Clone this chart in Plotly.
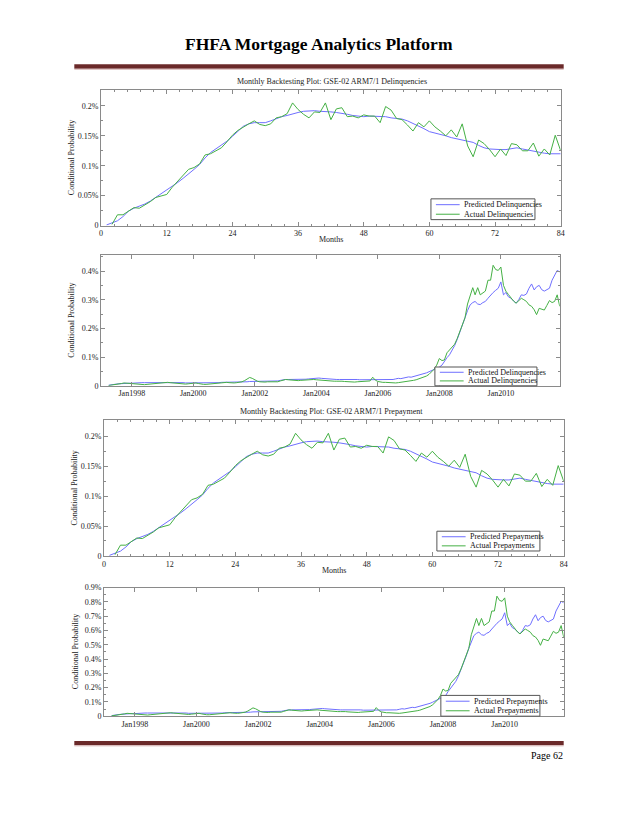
import plotly.graph_objects as go
import pandas as pd

# ---------------- data (values in percent) ----------------
months_pred = list(range(1, 85))
delinq_pred = [0.001, 0.004, 0.008, 0.015, 0.024, 0.029, 0.032, 0.036, 0.041, 0.047, 0.053, 0.059,
               0.065, 0.072, 0.079, 0.086, 0.094, 0.102, 0.113, 0.122, 0.128, 0.134, 0.141, 0.149,
               0.158, 0.166, 0.170, 0.172, 0.172, 0.172, 0.175, 0.179, 0.182, 0.184, 0.187, 0.189,
               0.191, 0.192, 0.192, 0.191, 0.191, 0.190, 0.189, 0.188, 0.186, 0.184, 0.183, 0.182,
               0.183, 0.183, 0.183, 0.182, 0.180, 0.179, 0.178, 0.175, 0.171, 0.167, 0.162, 0.157,
               0.155, 0.153, 0.150, 0.147, 0.145, 0.143, 0.141, 0.139, 0.134, 0.130, 0.128, 0.127,
               0.127, 0.127, 0.128, 0.130, 0.128, 0.126, 0.124, 0.122, 0.121, 0.120, 0.120, 0.120]
months_act = list(range(2, 85))
delinq_act = [0.002, 0.018, 0.018, 0.024, 0.030, 0.029, 0.034, 0.040, 0.047, 0.049, 0.052,
              0.064, 0.074, 0.085, 0.094, 0.097, 0.103, 0.118, 0.120, 0.125, 0.130, 0.140, 0.151,
              0.159, 0.165, 0.170, 0.175, 0.169, 0.167, 0.170, 0.180, 0.182, 0.187, 0.205, 0.194,
              0.186, 0.180, 0.190, 0.189, 0.205, 0.177, 0.195, 0.197, 0.182, 0.183, 0.180, 0.185,
              0.183, 0.183, 0.172, 0.199, 0.193, 0.179, 0.177, 0.168, 0.158, 0.172, 0.165, 0.175,
              0.165, 0.158, 0.150, 0.160, 0.148, 0.170, 0.133, 0.115, 0.143, 0.137, 0.127, 0.115,
              0.128, 0.117, 0.137, 0.135, 0.125, 0.125, 0.138, 0.116, 0.128, 0.118, 0.151, 0.125]

# the prepayment backtest panel shows the same monthly curves
prepay_pred = list(delinq_pred)
prepay_act = list(delinq_act)

# historical monthly series, Apr 1997 .. Dec 2011
hist_dates = pd.date_range("1997-04-01", "2011-12-01", freq="MS")
delinq_pred_hist = [
    0.002, 0.004, 0.005, 0.006, 0.007, 0.008, 0.008, 0.009, 0.009,
    0.009, 0.010, 0.010, 0.010, 0.011, 0.011, 0.011, 0.012, 0.012, 0.013, 0.013, 0.013,
    0.013, 0.013, 0.012, 0.012, 0.012, 0.011, 0.011, 0.011, 0.011, 0.010, 0.010, 0.010,
    0.010, 0.010, 0.010, 0.010, 0.009, 0.009, 0.010, 0.010, 0.011, 0.011, 0.011, 0.012,
    0.012, 0.012, 0.012, 0.013, 0.013, 0.013, 0.014, 0.014, 0.014, 0.014, 0.015, 0.015,
    0.016, 0.016, 0.016, 0.016, 0.015, 0.015, 0.015, 0.015, 0.016, 0.017, 0.019, 0.021,
    0.022, 0.022, 0.022, 0.021, 0.021, 0.022, 0.022, 0.023, 0.023, 0.024, 0.025, 0.026,
    0.027, 0.027, 0.026, 0.025, 0.024, 0.024, 0.023, 0.023, 0.022, 0.022, 0.022, 0.023,
    0.024, 0.024, 0.023, 0.022, 0.022, 0.021, 0.021, 0.021, 0.020, 0.020, 0.020, 0.020,
    0.020, 0.020, 0.020, 0.020, 0.020, 0.021, 0.022, 0.024, 0.026, 0.025, 0.027, 0.029,
    0.031, 0.030, 0.032, 0.034, 0.036, 0.038, 0.042, 0.045, 0.049, 0.053, 0.057, 0.061,
    0.065, 0.072, 0.086, 0.098, 0.108, 0.122, 0.140, 0.162, 0.185, 0.210, 0.237, 0.262,
    0.282, 0.290, 0.294, 0.285, 0.283, 0.290, 0.294, 0.305, 0.317, 0.325, 0.333, 0.340,
    0.362, 0.317, 0.325, 0.310, 0.305, 0.298, 0.288, 0.300, 0.317, 0.315, 0.320, 0.340,
    0.355, 0.334, 0.345, 0.350, 0.335, 0.330, 0.335, 0.340, 0.368, 0.385, 0.402, 0.397]
delinq_act_hist = [
    0.001, 0.002, 0.003, 0.004, 0.006, 0.008, 0.010, 0.009, 0.008,
    0.008, 0.007, 0.006, 0.005, 0.004, 0.004, 0.005, 0.006, 0.007, 0.008, 0.009, 0.010,
    0.010, 0.011, 0.012, 0.011, 0.010, 0.009, 0.008, 0.007, 0.006, 0.006, 0.007, 0.008,
    0.009, 0.010, 0.008, 0.006, 0.005, 0.005, 0.006, 0.007, 0.008, 0.009, 0.010, 0.011,
    0.011, 0.012, 0.011, 0.010, 0.010, 0.011, 0.012, 0.014, 0.018, 0.024, 0.029, 0.026,
    0.020, 0.016, 0.014, 0.013, 0.013, 0.014, 0.014, 0.013, 0.013, 0.014, 0.017, 0.020,
    0.022, 0.021, 0.020, 0.019, 0.018, 0.018, 0.019, 0.020, 0.021, 0.022, 0.022, 0.022,
    0.021, 0.020, 0.020, 0.019, 0.018, 0.017, 0.017, 0.016, 0.016, 0.017, 0.016, 0.015,
    0.014, 0.014, 0.013, 0.013, 0.014, 0.015, 0.016, 0.016, 0.016, 0.017, 0.030, 0.020,
    0.015, 0.013, 0.012, 0.012, 0.011, 0.010, 0.010, 0.010, 0.011, 0.012, 0.013, 0.014,
    0.016, 0.017, 0.019, 0.021, 0.024, 0.027, 0.030, 0.034, 0.040, 0.048, 0.058, 0.072,
    0.095, 0.088, 0.090, 0.115, 0.125, 0.135, 0.145, 0.165, 0.190, 0.210, 0.237, 0.285,
    0.317, 0.342, 0.317, 0.342, 0.317, 0.325, 0.330, 0.368, 0.368, 0.420, 0.405, 0.402,
    0.414, 0.350, 0.330, 0.318, 0.305, 0.295, 0.288, 0.298, 0.305, 0.300, 0.294, 0.282,
    0.277, 0.265, 0.248, 0.270, 0.268, 0.264, 0.280, 0.297, 0.290, 0.294, 0.317, 0.277]
prepay_pred_hist = [
    0.004, 0.008, 0.010, 0.012, 0.014, 0.016, 0.016, 0.018, 0.018,
    0.018, 0.020, 0.020, 0.020, 0.022, 0.022, 0.022, 0.024, 0.024, 0.026, 0.026, 0.026,
    0.026, 0.026, 0.024, 0.024, 0.024, 0.022, 0.022, 0.022, 0.022, 0.020, 0.020, 0.020,
    0.020, 0.020, 0.020, 0.020, 0.018, 0.018, 0.020, 0.020, 0.022, 0.022, 0.022, 0.024,
    0.024, 0.024, 0.024, 0.026, 0.026, 0.026, 0.028, 0.028, 0.028, 0.028, 0.030, 0.030,
    0.032, 0.032, 0.032, 0.032, 0.030, 0.030, 0.030, 0.030, 0.032, 0.034, 0.038, 0.042,
    0.044, 0.044, 0.044, 0.042, 0.042, 0.044, 0.044, 0.046, 0.046, 0.048, 0.050, 0.052,
    0.054, 0.054, 0.052, 0.050, 0.048, 0.048, 0.046, 0.046, 0.044, 0.044, 0.044, 0.046,
    0.048, 0.048, 0.046, 0.044, 0.044, 0.042, 0.042, 0.042, 0.040, 0.040, 0.040, 0.040,
    0.040, 0.040, 0.040, 0.040, 0.040, 0.042, 0.044, 0.048, 0.052, 0.050, 0.054, 0.058,
    0.062, 0.060, 0.064, 0.068, 0.072, 0.076, 0.084, 0.090, 0.098, 0.106, 0.114, 0.122,
    0.130, 0.144, 0.172, 0.196, 0.216, 0.244, 0.280, 0.324, 0.370, 0.420, 0.474, 0.524,
    0.564, 0.580, 0.588, 0.570, 0.566, 0.580, 0.588, 0.610, 0.634, 0.650, 0.666, 0.680,
    0.724, 0.634, 0.650, 0.620, 0.610, 0.596, 0.576, 0.600, 0.634, 0.630, 0.640, 0.680,
    0.710, 0.668, 0.690, 0.700, 0.670, 0.660, 0.670, 0.680, 0.736, 0.770, 0.804, 0.794]
prepay_act_hist = [
    0.002, 0.004, 0.006, 0.008, 0.012, 0.016, 0.020, 0.018, 0.016,
    0.016, 0.014, 0.012, 0.010, 0.008, 0.008, 0.010, 0.012, 0.014, 0.016, 0.018, 0.020,
    0.020, 0.022, 0.024, 0.022, 0.020, 0.018, 0.016, 0.014, 0.012, 0.012, 0.014, 0.016,
    0.018, 0.020, 0.016, 0.012, 0.010, 0.010, 0.012, 0.014, 0.016, 0.018, 0.020, 0.022,
    0.022, 0.024, 0.022, 0.020, 0.020, 0.022, 0.024, 0.028, 0.036, 0.048, 0.058, 0.052,
    0.040, 0.032, 0.028, 0.026, 0.026, 0.028, 0.028, 0.026, 0.026, 0.028, 0.034, 0.040,
    0.044, 0.042, 0.040, 0.038, 0.036, 0.036, 0.038, 0.040, 0.042, 0.044, 0.044, 0.044,
    0.042, 0.040, 0.040, 0.038, 0.036, 0.034, 0.034, 0.032, 0.032, 0.034, 0.032, 0.030,
    0.028, 0.028, 0.026, 0.026, 0.028, 0.030, 0.032, 0.032, 0.032, 0.034, 0.060, 0.040,
    0.030, 0.026, 0.024, 0.024, 0.022, 0.020, 0.020, 0.020, 0.022, 0.024, 0.026, 0.028,
    0.032, 0.034, 0.038, 0.042, 0.048, 0.054, 0.060, 0.068, 0.080, 0.096, 0.116, 0.144,
    0.190, 0.176, 0.180, 0.230, 0.250, 0.270, 0.290, 0.330, 0.380, 0.420, 0.474, 0.570,
    0.634, 0.684, 0.634, 0.684, 0.634, 0.650, 0.660, 0.736, 0.736, 0.840, 0.810, 0.804,
    0.828, 0.700, 0.660, 0.636, 0.610, 0.590, 0.576, 0.596, 0.610, 0.600, 0.588, 0.564,
    0.554, 0.530, 0.496, 0.540, 0.536, 0.528, 0.560, 0.594, 0.580, 0.588, 0.634, 0.554]

date_tick_vals = ["1998-01-01", "2000-01-01", "2002-01-01", "2004-01-01",
                  "2006-01-01", "2008-01-01", "2010-01-01"]
date_tick_text = ["Jan1998", "Jan2000", "Jan2002", "Jan2004", "Jan2006", "Jan2008", "Jan2010"]
y_small_vals = [0, 0.05, 0.1, 0.15, 0.2]
y_small_text = ["0", "0.05%", "0.1%", "0.15%", "0.2%"]
y_mid_vals = [0, 0.1, 0.2, 0.3, 0.4]
y_mid_text = ["0", "0.1%", "0.2%", "0.3%", "0.4%"]
y_big_vals = [0, 0.1, 0.2, 0.3, 0.4, 0.5, 0.6, 0.7, 0.8, 0.9]
y_big_text = ["0", "0.1%", "0.2%", "0.3%", "0.4%", "0.5%", "0.6%", "0.7%", "0.8%", "0.9%"]

# ---------------- styling ----------------
W, H = 640, 828
FONT = "Liberation Serif"
BLUE = "#6f6fff"
GREEN = "#45b045"
AX = "#8a8a8a"


def px(x):
    return x / W


def py(y):
    return 1 - y / H


fig = go.Figure()

panels = [
    (months_pred, delinq_pred, months_act, delinq_act, (100, 564, 87, 224)),
    (hist_dates, delinq_pred_hist, hist_dates, delinq_act_hist, (100, 563, 254, 386)),
    (months_pred, prepay_pred, months_act, prepay_act, (103, 567, 421, 558)),
    (hist_dates, prepay_pred_hist, hist_dates, prepay_act_hist, (103, 567, 590, 720)),
]
names = [("Predicted Delinquencies", "Actual Delinquencies"),
         ("Predicted Delinquencies", "Actual Delinquencies"),
         ("Predicted Prepayments", "Actual Prepayments"),
         ("Predicted Prepayments", "Actual Prepayments")]

for i, (xp, yp, xa, ya, box) in enumerate(panels):
    sfx = "" if i == 0 else str(i + 1)
    fig.add_trace(go.Scatter(x=xp, y=yp, mode="lines", name=names[i][0],
                             line=dict(color=BLUE, width=1), xaxis="x" + sfx, yaxis="y" + sfx,
                             showlegend=False))
    fig.add_trace(go.Scatter(x=xa, y=ya, mode="lines", name=names[i][1],
                             line=dict(color=GREEN, width=1), xaxis="x" + sfx, yaxis="y" + sfx,
                             showlegend=False))

common = dict(showline=True, linecolor=AX, linewidth=1, mirror="ticks", ticks="inside",
              ticklen=4, tickcolor=AX, showgrid=False, zeroline=False,
              tickfont=dict(family=FONT, size=8, color="#222"))
minor_x = dict(ticks="inside", ticklen=2, tickcolor=AX, showgrid=False)

layout = {}
yspecs = [((0, 0.2265), y_small_vals, y_small_text, 0.025),
          ((0, 0.455), y_mid_vals, y_mid_text, 0.05),
          ((0, 0.2265), y_small_vals, y_small_text, 0.025),
          ((0, 0.9), y_big_vals, y_big_text, 0.05)]
for i, (_, _, _, _, (l, r, t, b)) in enumerate(panels):
    sfx = "" if i == 0 else str(i + 1)
    xa = dict(common, domain=[px(l), px(r)], anchor="y" + sfx)
    if i in (0, 2):
        xa.update(range=[0, 84], tick0=0, dtick=12,
                  minor=dict(minor_x, tick0=0, dtick=2.4))
    else:
        xa.update(type="date", range=["1997-01-01", "2011-12-01"], tickmode="array",
                  tickvals=date_tick_vals, ticktext=date_tick_text)
    rng, tv, tt, mdt = yspecs[i]
    ya = dict(common, domain=[py(b), py(t)], anchor="x" + sfx, range=list(rng),
              tickmode="array", tickvals=tv, ticktext=tt,
              minor=dict(minor_x, tickmode="linear", tick0=0, dtick=mdt))
    layout["xaxis" + sfx] = xa
    layout["yaxis" + sfx] = ya

shapes = []
annotations = []

# page header / footer
shapes.append(dict(type="rect", xref="paper", yref="paper", x0=px(73), x1=px(567),
                   y0=py(65.5), y1=py(61), fillcolor="#6b2a2a", line=dict(width=0)))
shapes.append(dict(type="line", xref="paper", yref="paper", x0=px(73), x1=px(567),
                   y0=py(66), y1=py(66), line=dict(color="#d9b8b8", width=1)))
shapes.append(dict(type="rect", xref="paper", yref="paper", x0=px(73), x1=px(567),
                   y0=py(749.5), y1=py(745), fillcolor="#6b2a2a", line=dict(width=0)))
shapes.append(dict(type="line", xref="paper", yref="paper", x0=px(73), x1=px(567),
                   y0=py(750), y1=py(750), line=dict(color="#d9b8b8", width=1)))
annotations.append(dict(text="<b>FHFA Mortgage Analytics Platform</b>", xref="paper", yref="paper",
                        x=px(320), y=py(40), showarrow=False, xanchor="center", yanchor="middle",
                        font=dict(family=FONT, size=17.5, color="#000")))
annotations.append(dict(text="Page 62", xref="paper", yref="paper", x=px(568), y=py(760),
                        showarrow=False, xanchor="right", yanchor="middle",
                        font=dict(family=FONT, size=10, color="#000")))

# panel titles, axis titles
titles = [("Monthly Backtesting Plot: GSE-02 ARM7/1 Delinquencies", 78),
          ("Monthly Backtesting Plot: GSE-02 ARM7/1 Prepayment", 412)]
for txt, y in titles:
    annotations.append(dict(text=txt, xref="paper", yref="paper", x=px(333), y=py(y),
                            showarrow=False, xanchor="center", yanchor="middle",
                            font=dict(family=FONT, size=8, color="#222")))
for x, y in [(332, 238), (335, 573)]:
    annotations.append(dict(text="Months", xref="paper", yref="paper", x=px(x), y=py(y),
                            showarrow=False, xanchor="center", yanchor="middle",
                            font=dict(family=FONT, size=8, color="#222")))
for i, (_, _, _, _, (l, r, t, b)) in enumerate(panels):
    xt = [70, 70, 73, 75][i]
    annotations.append(dict(text="Conditional Probability", xref="paper", yref="paper",
                            x=px(xt), y=py((t + b) / 2), textangle=-90, showarrow=False,
                            xanchor="center", yanchor="middle",
                            font=dict(family=FONT, size=8, color="#222")))

# legends (boxes drawn on the page)
legend_boxes = [(433, 538, 197, 218), (437, 540, 367, 386), (439, 543, 533, 553), (443, 543, 699, 720)]
for i, (l, r, t, b) in enumerate(legend_boxes):
    shapes.append(dict(type="rect", xref="paper", yref="paper", x0=px(l), x1=px(r),
                       y0=py(b), y1=py(t), fillcolor="white", line=dict(color="#555", width=1),
                       layer="above"))
    hgt = b - t
    for j, col in enumerate([BLUE, GREEN]):
        yy = t + hgt * (0.28 + 0.46 * j)
        shapes.append(dict(type="line", xref="paper", yref="paper", x0=px(l + 5), x1=px(l + 29),
                           y0=py(yy), y1=py(yy), line=dict(color=col, width=1), layer="above"))
        annotations.append(dict(text=names[i][j], xref="paper", yref="paper", x=px(l + 31),
                                y=py(yy), showarrow=False, xanchor="left", yanchor="middle",
                                font=dict(family=FONT, size=8, color="#111")))

fig.update_layout(width=W, height=H, margin=dict(l=0, r=0, t=0, b=0),
                  paper_bgcolor="white", plot_bgcolor="white", showlegend=False,
                  shapes=shapes, annotations=annotations, **layout)

fig.write_html("out.html", config={"displayModeBar": False},
               post_script="document.body.style.margin='0';document.body.style.padding='0';"
                           "document.body.style.overflow='hidden';")
